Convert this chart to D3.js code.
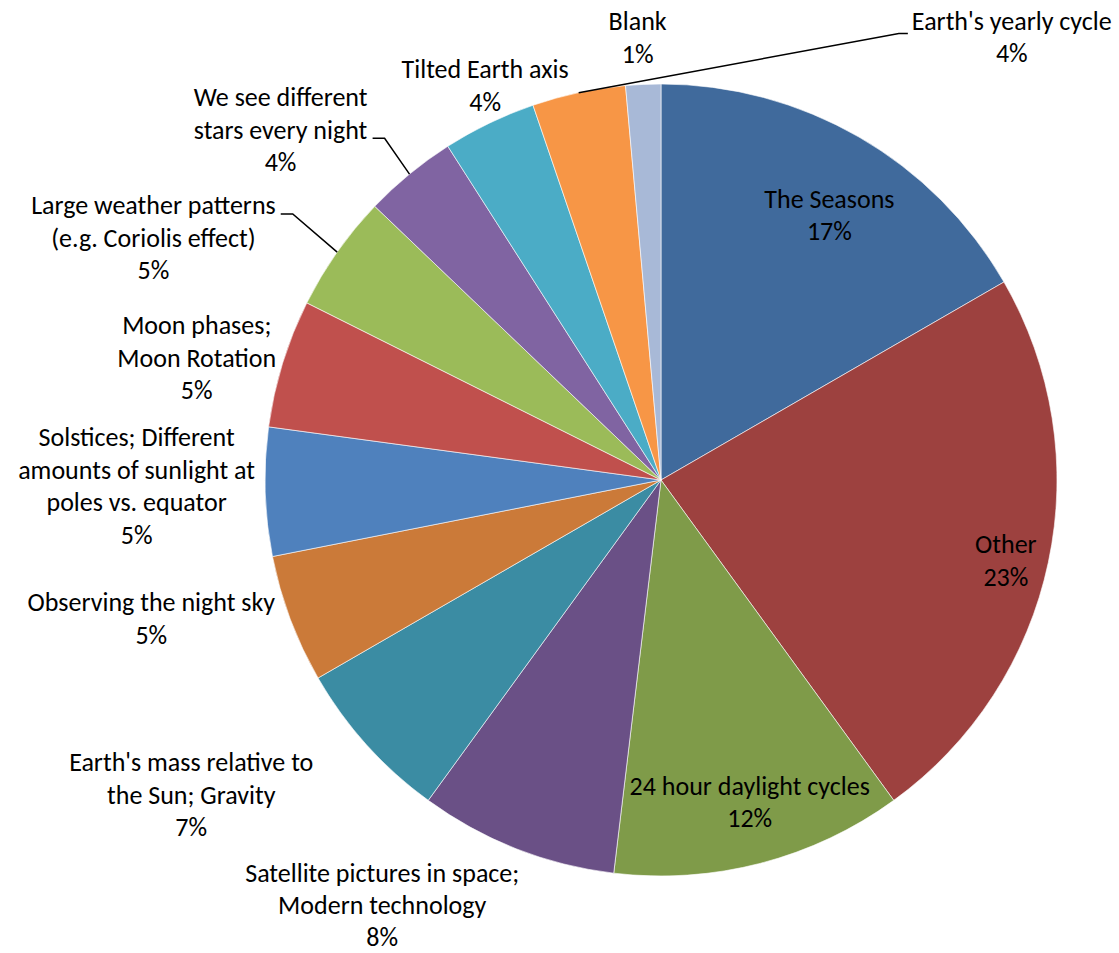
<!DOCTYPE html>
<html>
<head>
<meta charset="utf-8">
<script src="https://cdn.jsdelivr.net/npm/d3@7"></script>
<style>
  body { margin: 0; background: #fff; }
  svg text { font-family: Carlito, Calibri, Lato, sans-serif; font-size: 26px; fill: #000; }
</style>
</head>
<body>
<svg id="chart"></svg>
<script>
// answers, clockwise from 12 o'clock ("\n" = line break in the label)
const categories = [
  "The Seasons",
  "Other",
  "24 hour daylight cycles",
  "Satellite pictures in space;\nModern technology",
  "Earth's mass relative to\nthe Sun; Gravity",
  "Observing the night sky",
  "Solstices; Different\namounts of sunlight at\npoles vs. equator",
  "Moon phases;\nMoon Rotation",
  "Large weather patterns\n(e.g. Coriolis effect)",
  "We see different\nstars every night",
  "Tilted Earth axis",
  "Earth's yearly cycle",
  "Blank"
]
const counts = [35, 49, 25, 17, 14, 11, 11, 11, 10, 8, 8, 8, 3]

const colors = [
  "#406a9c", "#9d413f", "#7f9b49", "#6a5086", "#3b8ca3", "#cb7a39",
  "#4f81bd", "#c0504d", "#9bbb59", "#8064a2", "#4bacc6", "#f79646", "#a8b9d7"
]

// where excel's "best fit" moved each label (nudge from the default spot)
const labelLayout = [
  { inside: true, dx: 10, dy: 10 },
  { inside: true, dx: 35, dy: 15 },
  { inside: true, dx: 9, dy: 16 },
  { dx: -129, dy: -5 },
  { dx: -43, dy: 41 },
  { dx: -2, dy: -5 },
  { dx: 4, dy: -6 },
  { dx: 7, dy: -1 },
  { dx: -50, dy: -6, leader: -24 },
  { dx: -33, dy: -33, leader: 8 },
  { dx: 2, dy: 8 },
  { dx: 436, dy: -9, leader: -4 },
  { dx: -5, dy: 0 }
]

const width = 1119
const height = 953
const cx = 661, cy = 480, R = 396
const lineH = 32.5, fs = 26

const svg = d3.select("#chart").attr("width", width).attr("height", height)

const total = d3.sum(counts)
const pct = d3.format(".0%")

const pie = d3.pie().sort(null).value(d => d)
const arc = d3.arc().innerRadius(0).outerRadius(R)
const arcs = pie(counts)

const g = svg.append("g").attr("transform", `translate(${cx},${cy})`)

g.selectAll("path.slice")
  .data(arcs)
  .enter()
  .append("path")
  .attr("class", "slice")
  .attr("d", arc)
  .attr("fill", (d, i) => colors[i])
  .attr("stroke", "#fff")
  .attr("stroke-width", 0.6)

function pointAt(r, a) {
  return [r * Math.sin(a), -r * Math.cos(a)]
}

const leaders = g.append("g").attr("class", "leaders")
const labels = g.selectAll("g.label")
  .data(arcs)
  .enter()
  .append("g")
  .attr("class", "label")

labels.each(function(d, i) {
  const lab = d3.select(this)
  const lay = labelLayout[i]
  const lines = categories[i].split("\n").concat(pct(d.data / total))
  const t = lab.append("text").attr("text-anchor", "middle")
  lines.forEach((s, k) => {
    t.append("tspan")
      .attr("x", 0)
      .attr("y", (k - (lines.length - 1) / 2) * lineH + fs * 0.33)
      .text(s)
  })
  const w = t.node().getBBox().width
  const h = lines.length * lineH
  const mid = (d.startAngle + d.endAngle) / 2
  let x, y
  if (lay.inside) {
    const p = pointAt(0.8 * R, mid)
    x = p[0] + lay.dx
    y = p[1] + lay.dy
  } else {
    const p = pointAt(R + 14, mid)
    const s = Math.sin(mid), c = Math.cos(mid)
    const ax = s < -0.5 ? 1 : s > 0.5 ? 0 : 0.5
    const ay = c > 0.8 ? 1 : c < -0.8 ? 0 : 0.5
    x = p[0] - w * ax + w / 2 + lay.dx
    y = p[1] - h * ay + h / 2 + lay.dy
  }
  lab.attr("transform", `translate(${x},${y})`)

  if (lay.leader !== undefined) {
    const e = pointAt(R, mid)
    const ly = y + lay.leader
    let pts
    if (x < e[0]) {
      pts = [[x + w / 2 + 5, ly], [x + w / 2 + 17, ly], e]
    } else {
      pts = [[x - w / 2 - 4, ly], [x - w / 2 - 13, ly], e]
    }
    leaders.append("path")
      .attr("d", d3.line()(pts))
      .attr("fill", "none")
      .attr("stroke", "#000")
      .attr("stroke-width", 1.5)
  }
})
</script>
</body>
</html>
